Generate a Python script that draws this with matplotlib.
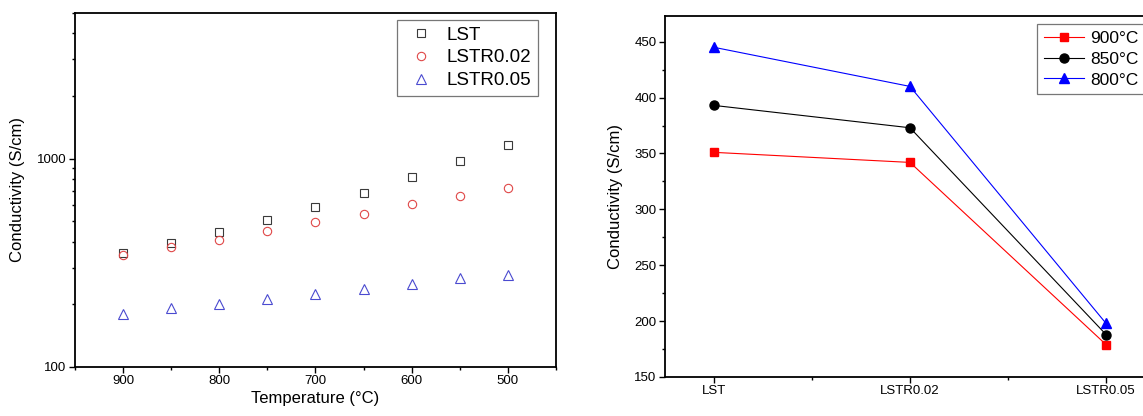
import numpy as np
import matplotlib
matplotlib.use("Agg")
import matplotlib.pyplot as plt
from matplotlib.ticker import LogLocator, FixedLocator, FixedFormatter, MultipleLocator, NullFormatter

plt.rcParams['font.family'] = ['Liberation Sans', 'DejaVu Sans']

# ------------------------------
# Data: left panel (conductivity vs temperature, log scale)
# ------------------------------
temps = [900, 850, 800, 750, 700, 650, 600, 550, 500]
lst = [354, 395, 445, 509, 589, 684, 817, 970, 1163]
lstr002 = [344, 375, 408, 450, 497, 545, 604, 662, 726]
lstr005 = [180, 191, 201, 212, 223, 237, 251, 266, 276]

# ------------------------------
# Data: right panel (conductivity vs composition)
# ------------------------------
samples = ["LST", "LSTR0.02", "LSTR0.05"]
c900 = [351, 342, 179]
c850 = [393, 373, 188]
c800 = [445, 410, 198]

fig = plt.figure(figsize=(11.43, 4.16), dpi=100)

# ------------------------------
# Left panel
# ------------------------------
ax1 = fig.add_axes([0.0656, 0.1178, 0.4208, 0.851])
ax1.plot(temps, lst, ls='none', marker='s', ms=5.5, mfc='none', mec='#3a3a3a', mew=0.8, label='LST')
ax1.plot(temps, lstr002, ls='none', marker='o', ms=6, mfc='none', mec='#e04848', mew=0.8, label='LSTR0.02')
ax1.plot(temps, lstr005, ls='none', marker='^', ms=6.5, mfc='none', mec='#4a4ad0', mew=0.8, label='LSTR0.05')

ax1.set_yscale('log')
ax1.set_ylim(100, 5000)
ax1.set_xlim(950, 450)
ax1.xaxis.set_major_locator(MultipleLocator(100))
ax1.xaxis.set_minor_locator(MultipleLocator(50))
ax1.yaxis.set_major_locator(FixedLocator([100, 1000]))
ax1.yaxis.set_major_formatter(FixedFormatter(["100", "1000"]))
ax1.yaxis.set_minor_locator(LogLocator(base=10, subs=np.arange(2, 10)))
ax1.yaxis.set_minor_formatter(NullFormatter())
ax1.set_xlabel("Temperature (°C)", fontsize=12, labelpad=3)
ax1.set_ylabel("Conductivity (S/cm)", fontsize=12, labelpad=9)

leg1 = ax1.legend(loc='upper left', bbox_to_anchor=(0.3473, 0.952), bbox_transform=fig.transFigure,
                  fontsize=13.5, frameon=True, fancybox=False, edgecolor='#555555',
                  handlelength=1.9, handletextpad=0.4, labelspacing=0.3, borderpad=0.35,
                  borderaxespad=0)
leg1.get_frame().set_linewidth(0.9)

# ------------------------------
# Right panel
# ------------------------------
ax2 = fig.add_axes([0.5818, 0.0938, 0.4287, 0.8677])
xpos = np.arange(len(samples))
ax2.plot(xpos, c900, color='red', lw=0.8, marker='s', ms=6, label='900°C')
ax2.plot(xpos, c850, color='black', lw=0.8, marker='o', ms=6.5, label='850°C')
ax2.plot(xpos, c800, color='blue', lw=0.8, marker='^', ms=7, label='800°C')

ax2.set_xlim(-0.25, 2.25)
ax2.set_ylim(150, 473)
ax2.set_xticks(xpos)
ax2.set_xticklabels(samples)
ax2.xaxis.set_minor_locator(FixedLocator([0.5, 1.5]))
ax2.yaxis.set_major_locator(MultipleLocator(50))
ax2.yaxis.set_minor_locator(MultipleLocator(25))
ax2.set_ylabel("Conductivity (S/cm)", fontsize=12, labelpad=8)

leg2 = ax2.legend(loc='upper left', bbox_to_anchor=(0.9073, 0.9423), bbox_transform=fig.transFigure,
                  fontsize=12.5, frameon=True, fancybox=False, edgecolor='#555555',
                  handlelength=2.3, handletextpad=0.35, labelspacing=0.32, borderpad=0.4,
                  borderaxespad=0)
leg2.get_frame().set_linewidth(0.9)

for ax in (ax1, ax2):
    for sp in ax.spines.values():
        sp.set_linewidth(1.3)
    ax.tick_params(which='major', direction='out', length=4, width=1, labelsize=9.5, pad=2)
    ax.tick_params(which='minor', direction='out', length=2.5, width=1)

plt.savefig("out.png", dpi=100)
